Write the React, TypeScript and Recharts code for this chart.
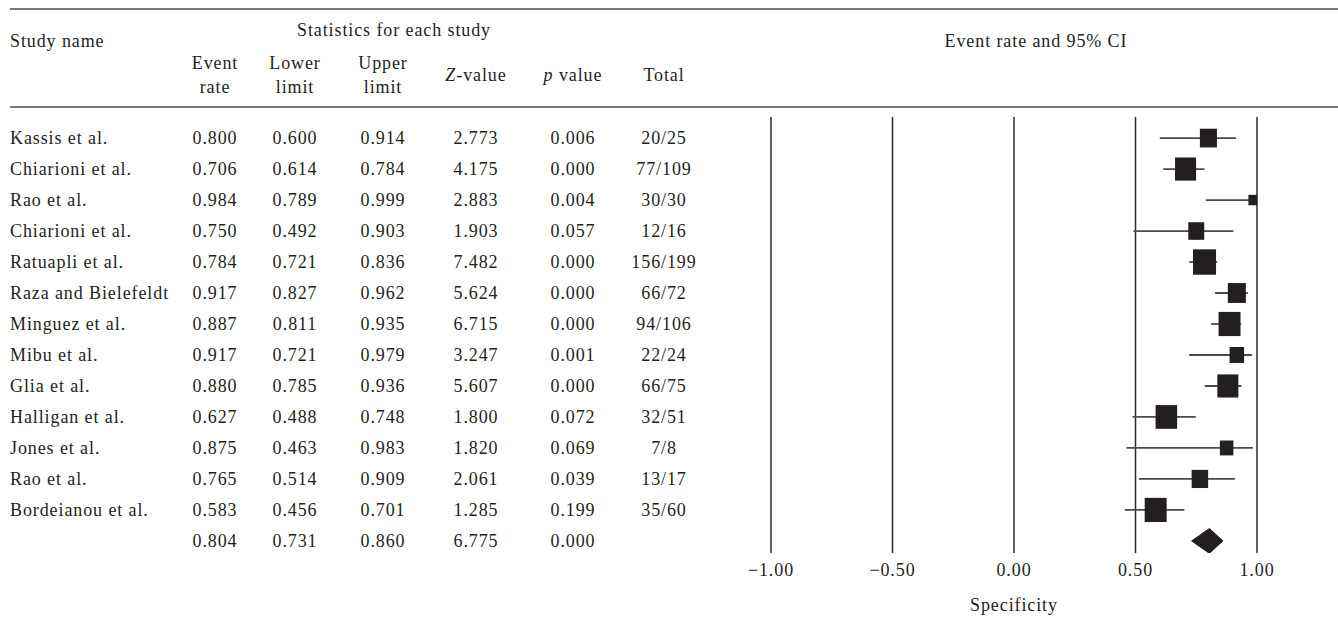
import React from 'react';
import { ScatterChart, Scatter, XAxis, YAxis, ZAxis, CartesianGrid, ErrorBar } from 'recharts';

const studies = [
  'Kassis et al.', 'Chiarioni et al.', 'Rao et al.', 'Chiarioni et al.', 'Ratuapli et al.',
  'Raza and Bielefeldt', 'Minguez et al.', 'Mibu et al.', 'Glia et al.', 'Halligan et al.',
  'Jones et al.', 'Rao et al.', 'Bordeianou et al.',
];
const eventRate = [0.800, 0.706, 0.984, 0.750, 0.784, 0.917, 0.887, 0.917, 0.880, 0.627, 0.875, 0.765, 0.583];
const lowerLimit = [0.600, 0.614, 0.789, 0.492, 0.721, 0.827, 0.811, 0.721, 0.785, 0.488, 0.463, 0.514, 0.456];
const upperLimit = [0.914, 0.784, 0.999, 0.903, 0.836, 0.962, 0.935, 0.979, 0.936, 0.748, 0.983, 0.909, 0.701];
const zValues = ['2.773', '4.175', '2.883', '1.903', '7.482', '5.624', '6.715', '3.247', '5.607', '1.800', '1.820', '2.061', '1.285'];
const pValues = ['0.006', '0.000', '0.004', '0.057', '0.000', '0.000', '0.000', '0.001', '0.000', '0.072', '0.069', '0.039', '0.199'];
const totals = ['20/25', '77/109', '30/30', '12/16', '156/199', '66/72', '94/106', '22/24', '66/75', '32/51', '7/8', '13/17', '35/60'];
// relative weights (%)
const weights = [6.5, 9.9, 2.0, 5.7, 11.9, 7.3, 10.8, 4.7, 9.9, 10.4, 4.1, 6.1, 10.8];

const summaryRate = 0.804;
const summaryLower = 0.731;
const summaryUpper = 0.860;
const summaryZ = '6.775';
const summaryP = '0.000';

const xTicks = [-1, -0.5, 0, 0.5, 1];

// layout constants
const W = 1338;
const H = 618;
const PLOT_LEFT = 771;
const PLOT_RIGHT = 1257;
const PLOT_TOP = 117;
const PLOT_BOTTOM = 553;
const Y_MIN = -0.68;
const Y_MAX = 13.39;
const ROW_PX = (PLOT_BOTTOM - PLOT_TOP) / (Y_MAX - Y_MIN);
const rowY = (i: number) => PLOT_TOP + (i - Y_MIN) * ROW_PX;

const INK = '#231f20';
const FONT = '"Liberation Serif", "Times New Roman", serif';

const studyPoints = studies.map((name, i) => ({
  name,
  x: eventRate[i],
  y: i,
  weight: weights[i],
  err: [eventRate[i] - lowerLimit[i], upperLimit[i] - eventRate[i]],
}));

const summaryRow = studies.length;
const diamondPoints = [
  { x: summaryLower, y: summaryRow },
  { x: summaryRate, y: summaryRow - 0.4 },
  { x: summaryUpper, y: summaryRow },
  { x: summaryRate, y: summaryRow + 0.4 },
  { x: summaryLower, y: summaryRow },
];

const SquareShape = (props: any) => {
  const { cx, cy, size } = props;
  if (cx == null || cy == null) return <g />;
  const side = Math.sqrt(Math.max(size || 0, 0));
  const h = side * 1.1;
  return <rect x={cx - side / 2} y={cy - h / 2} width={side} height={h} fill={INK} />;
};

const EmptyShape = () => <g />;

const fmtTick = (v: number) => (v < 0 ? '\u2212' + Math.abs(v).toFixed(2) : v.toFixed(2));

const colCenters = { rate: 215, lower: 295, upper: 383, z: 476, p: 573, total: 664 };

const TableOverlay = () => {
  const common = { fontFamily: FONT, fontSize: 18, fill: INK, letterSpacing: 0.9, dominantBaseline: 'central' as const };
  const mid = { ...common, textAnchor: 'middle' as const };
  const rows = studies.map((name, i) => {
    const y = rowY(i);
    return (
      <g key={i}>
        <text x={10} y={y} {...common}>{name}</text>
        <text x={colCenters.rate} y={y} {...mid}>{eventRate[i].toFixed(3)}</text>
        <text x={colCenters.lower} y={y} {...mid}>{lowerLimit[i].toFixed(3)}</text>
        <text x={colCenters.upper} y={y} {...mid}>{upperLimit[i].toFixed(3)}</text>
        <text x={colCenters.z} y={y} {...mid}>{zValues[i]}</text>
        <text x={colCenters.p} y={y} {...mid}>{pValues[i]}</text>
        <text x={colCenters.total} y={y} {...mid}>{totals[i]}</text>
      </g>
    );
  });
  const sy = rowY(summaryRow);
  return (
    <svg width={W} height={H} style={{ position: 'absolute', left: 0, top: 0, pointerEvents: 'none' }}>
      <line x1={10} x2={W} y1={9} y2={9} stroke="#4d4d4f" strokeWidth={1.6} />
      <line x1={10} x2={W} y1={107} y2={107} stroke="#4d4d4f" strokeWidth={1.6} />
      <text x={10} y={41} {...common}>Study name</text>
      <text x={394} y={30} {...mid}>Statistics for each study</text>
      <text x={colCenters.rate} y={63} {...mid}>Event</text>
      <text x={colCenters.rate} y={87} {...mid}>rate</text>
      <text x={colCenters.lower} y={63} {...mid}>Lower</text>
      <text x={colCenters.lower} y={87} {...mid}>limit</text>
      <text x={colCenters.upper} y={63} {...mid}>Upper</text>
      <text x={colCenters.upper} y={87} {...mid}>limit</text>
      <text x={colCenters.z} y={75} {...mid}><tspan fontStyle="italic">Z</tspan>-value</text>
      <text x={colCenters.p} y={75} {...mid}><tspan fontStyle="italic">p</tspan> value</text>
      <text x={colCenters.total} y={75} {...mid}>Total</text>
      <text x={1036} y={41} {...mid}>Event rate and 95% CI</text>
      {rows}
      <g>
        <text x={colCenters.rate} y={sy} {...mid}>{summaryRate.toFixed(3)}</text>
        <text x={colCenters.lower} y={sy} {...mid}>{summaryLower.toFixed(3)}</text>
        <text x={colCenters.upper} y={sy} {...mid}>{summaryUpper.toFixed(3)}</text>
        <text x={colCenters.z} y={sy} {...mid}>{summaryZ}</text>
        <text x={colCenters.p} y={sy} {...mid}>{summaryP}</text>
      </g>
    </svg>
  );
};

const XAXIS_H = 58;

export default function App() {
  return (
    <div style={{ position: 'absolute', left: 0, top: 0, width: W, height: H, background: '#fff', fontFamily: FONT }}>
      <ScatterChart
        width={W}
        height={H}
        margin={{ top: PLOT_TOP, left: PLOT_LEFT, right: W - PLOT_RIGHT, bottom: H - PLOT_BOTTOM - XAXIS_H }}
        style={{ position: 'absolute', left: 0, top: 0 }}
      >
        <CartesianGrid horizontal={false} stroke="#2b2b2b" strokeWidth={1.5} />
        <XAxis
          type="number"
          dataKey="x"
          domain={[-1, 1]}
          ticks={xTicks}
          allowDataOverflow
          axisLine={false}
          tickLine={false}
          tickFormatter={fmtTick}
          tick={{ fill: INK, fontSize: 18, fontFamily: FONT, letterSpacing: 0.9 }}
          tickMargin={4}
          height={XAXIS_H}
          interval={0}
          label={{ value: 'Specificity', position: 'insideBottom', offset: 0, fill: INK, fontSize: 18, fontFamily: FONT, letterSpacing: 0.9 } as any}
        />
        <YAxis type="number" dataKey="y" domain={[Y_MIN, Y_MAX]} reversed hide allowDataOverflow />
        <ZAxis type="number" dataKey="weight" domain={[0, 12]} range={[0, 12 * 44.64]} />
        <Scatter data={studyPoints} shape={SquareShape} isAnimationActive={false} fill={INK}>
          <ErrorBar dataKey="err" direction="x" width={0} stroke="#4a4a4a" strokeWidth={1.8} />
        </Scatter>
        <Scatter
          data={diamondPoints}
          shape={EmptyShape}
          isAnimationActive={false}
          fill={INK}
          line={{ fill: INK, stroke: INK, strokeWidth: 1 }}
          lineJointType="linear"
        />
      </ScatterChart>
      <TableOverlay />
    </div>
  );
}
